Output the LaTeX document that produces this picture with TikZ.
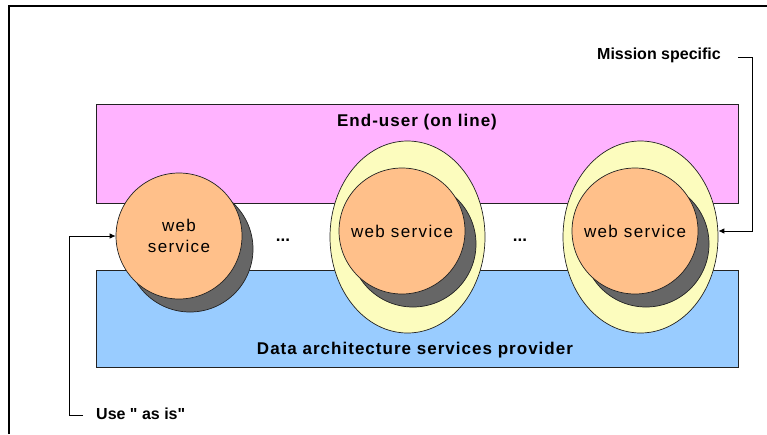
\documentclass[tikz,border=0pt]{standalone}
\usepackage{fontspec}
\setmainfont{Liberation Sans}
\newfontfamily\wsfont[LetterSpace=8]{Liberation Sans}
\newfontfamily\bfspaced[LetterSpace=6]{Liberation Sans Bold}
\newfontfamily\sidefont[Ligatures=ResetAll]{Liberation Sans Bold}
\usetikzlibrary{shapes.geometric,arrows.meta}
\definecolor{pinkfill}{HTML}{FFB3FF}
\definecolor{bluefill}{HTML}{99CCFF}
\definecolor{orangefill}{HTML}{FFC08A}
\definecolor{yellowfill}{HTML}{FCFCBE}
\definecolor{shadowgray}{HTML}{666666}
\definecolor{edge}{HTML}{222222}
\tikzset{
  layerbox/.style={draw=edge,line width=0.7pt},
  halo/.style={ellipse,draw=edge,line width=0.7pt,fill=yellowfill,minimum width=155pt,minimum height=192pt,inner sep=0pt},
  wsshadow/.style={circle,draw=edge,line width=0.7pt,fill=shadowgray,minimum size=126pt,inner sep=0pt},
  wscircle/.style={circle,draw=edge,line width=0.7pt,fill=orangefill,minimum size=126pt,inner sep=0pt,align=center,font=\fontsize{17}{21}\wsfont},
  boldlabel/.style={font=\fontsize{17}{20}\bfspaced,inner sep=0pt},
  sidelabel/.style={font=\fontsize{16}{19}\sidefont,inner sep=0pt,anchor=west},
  dots/.style={font=\fontsize{17}{20}\bfseries,inner sep=0pt},
  conn/.style={draw=black,line width=0.8pt,-{Latex[length=6pt,width=5.5pt]}}
}
\begin{document}
\begin{tikzpicture}[x=1pt,y=-1pt]
\useasboundingbox (0,0) rectangle (767,434);
% frame
\draw[line width=1.3pt] (9,434) -- (9,6) -- (767,6);
% layers
\node[layerbox,fill=pinkfill,minimum width=642pt,minimum height=99pt,inner sep=0pt] (enduser) at (417,153.5) {};
\node[layerbox,fill=bluefill,minimum width=642pt,minimum height=97pt,inner sep=0pt] (provider) at (417,318.5) {};
\node[boldlabel] (eutext) at (417,122) {End-user (on line)};
\node[boldlabel] (dptext) at (415,350) {Data architecture services provider};
% halos
\node[halo] (e2) at (407.5,237) {};
\node[halo] (e3) at (640.5,237) {};
% shadows
\node[wsshadow] (ws1s) at (190,249) {};
\node[wsshadow] (ws2s) at (413,244) {};
\node[wsshadow] (ws3s) at (646,244) {};
% web services
\node[wscircle] (ws1) at (179,236) {web\\service};
\node[wscircle] (ws2) at (402,231) {web service};
\node[wscircle] (ws3) at (635,231) {web service};
% dots
\node[dots] (d1) at (283,240) {...};
\node[dots] (d2) at (520,240) {...};
% side labels
\node[sidelabel] (mission) at (597,55) {Mission specific};
\node[sidelabel] (asis) at (96,414) {Use " as is"};
\coordinate (mc) at (738,57);
\coordinate (ac) at (83,415);
\draw[conn] (mc) -- ++(14,0) |- (e3.east |- ws3.center);
\draw[conn] (ac) -- ++(-14,0) |- (ws1.west);
\end{tikzpicture}
\end{document}
